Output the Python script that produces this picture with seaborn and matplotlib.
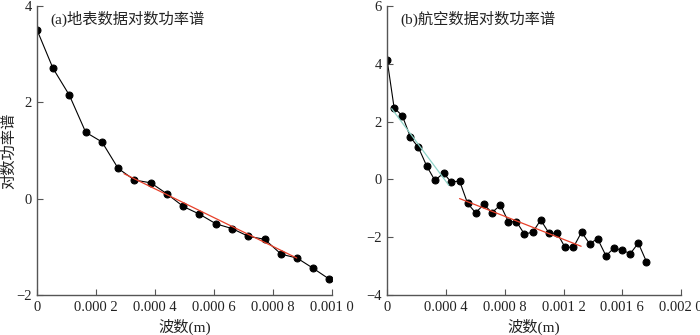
import numpy as np
import matplotlib
matplotlib.use("Agg")
import matplotlib.pyplot as plt
import seaborn as sns

# ── data ─────────────────────────────────────────────────────────────────────
x_a = [0.0, 0.0000537, 0.0001094, 0.000165, 0.00022, 0.000275, 0.00033,
       0.000386, 0.000441, 0.000496, 0.000551, 0.000607, 0.000662,
       0.000717, 0.000772, 0.000828, 0.000882, 0.000936, 0.000992]
y_a = [3.50, 2.71, 2.15, 1.38, 1.18, 0.63, 0.39, 0.33, 0.10, -0.16,
       -0.32, -0.52, -0.62, -0.78, -0.84, -1.15, -1.23, -1.44, -1.67]
fit_a_x = [0.000295, 0.000881]
fit_a_y = [0.52, -1.23]

x_b = [0.0, 0.0000477, 0.000104, 0.000159, 0.000213, 0.00027, 0.000325,
       0.000384, 0.000436, 0.000493, 0.000548, 0.000602, 0.000659,
       0.000713, 0.000771, 0.000825, 0.00088, 0.000934, 0.000991,
       0.001045, 0.001102, 0.001157, 0.001211, 0.001268, 0.001323,
       0.001377, 0.001432, 0.001489, 0.001543, 0.001598, 0.001655,
       0.001709, 0.001764]
y_b = [4.14, 2.48, 2.20, 1.46, 1.11, 0.46, -0.03, 0.22, -0.09, -0.05,
       -0.83, -1.15, -0.86, -1.15, -0.88, -1.46, -1.46, -1.89, -1.82,
       -1.40, -1.86, -1.86, -2.35, -2.34, -1.82, -2.22, -2.05, -2.64,
       -2.37, -2.45, -2.56, -2.20, -2.84]
fit_b1_x = [0.0000314, 0.00042]
fit_b1_y = [2.45, -0.20]
fit_b2_x = [0.000493, 0.00132]
fit_b2_y = [-0.66, -2.31]

xticks_a = [0, 0.0002, 0.0004, 0.0006, 0.0008, 0.0010]
xlabels_a = ["0", "0.000 2", "0.000 4", "0.000 6", "0.000 8", "0.001 0"]
xticks_b = [0, 0.0004, 0.0008, 0.0012, 0.0016, 0.0020]
xlabels_b = ["0", "0.000 4", "0.000 8", "0.001 2", "0.001 6", "0.002 0"]

sns.set_style("ticks")
plt.rcParams["font.family"] = ["Liberation Serif", "Noto Sans CJK SC"]
plt.rcParams["font.size"] = 10

fig = plt.figure(figsize=(7.0, 3.35), dpi=100)
ax1 = fig.add_axes([0.053, 0.119, 0.421, 0.863])
ax2 = fig.add_axes([0.553, 0.119, 0.420, 0.863])

spine_c = "#555555"
text_c = "#222222"


def style(ax, xticks, xlabels, xlim, ylim, yticks):
    ax.set_xlim(*xlim)
    ax.set_ylim(*ylim)
    ax.set_xticks(xticks)
    ax.set_xticklabels(xlabels)
    ax.set_yticks(yticks)
    ax.tick_params(direction="in", length=4, width=0.8, colors=spine_c,
                   labelcolor=text_c, labelsize=10.5)
    ax.tick_params(axis="x", pad=4)
    ax.tick_params(axis="y", pad=4)
    for s in ["top", "right"]:
        ax.spines[s].set_visible(False)
    for s in ["left", "bottom"]:
        ax.spines[s].set_color(spine_c)
        ax.spines[s].set_linewidth(1.0)
    ax.set_xlabel("波数(m)", fontsize=11, color=text_c, labelpad=4)


# (a)
sns.lineplot(x=x_a, y=y_a, ax=ax1, color="black", lw=0.8, marker="o",
             markersize=5, markeredgecolor="black", sort=False)
sns.lineplot(x=fit_a_x, y=fit_a_y, ax=ax1, color="#e8402a", lw=0.9)
style(ax1, xticks_a, xlabels_a, (0, 0.001), (-2, 4), [-2, 0, 2, 4])
ax1.set_ylabel("对数功率谱", fontsize=11, color=text_c)
ax1.yaxis.set_label_coords(-0.072, 0.5)
ax1.text(0.044, 0.985, "(a)地表数据对数功率谱", transform=ax1.transAxes,
         fontsize=11, va="top", ha="left", color=text_c)

# (b)
sns.lineplot(x=x_b, y=y_b, ax=ax2, color="black", lw=0.8, marker="o",
             markersize=5, markeredgecolor="black", sort=False)
sns.lineplot(x=fit_b1_x, y=fit_b1_y, ax=ax2, color="#8fd3c8", lw=0.9)
sns.lineplot(x=fit_b2_x, y=fit_b2_y, ax=ax2, color="#e8402a", lw=0.9)
style(ax2, xticks_b, xlabels_b, (0, 0.002), (-4, 6), [-4, -2, 0, 2, 4, 6])
ax2.set_ylabel("")
ax2.text(0.044, 0.985, "(b)航空数据对数功率谱", transform=ax2.transAxes,
         fontsize=11, va="top", ha="left", color=text_c)

fig.savefig("out.png", dpi=100)
